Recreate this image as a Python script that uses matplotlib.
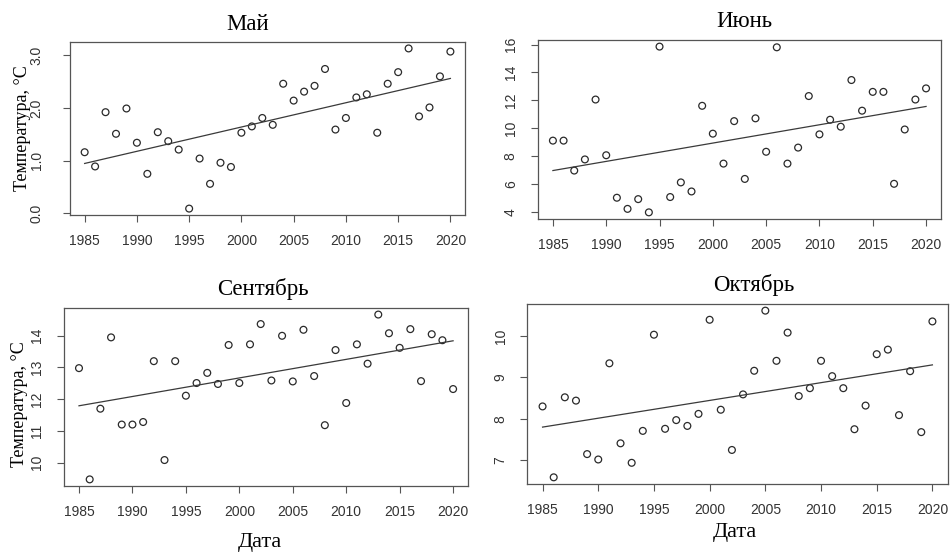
import matplotlib
matplotlib.use("Agg")
import matplotlib.pyplot as plt
import numpy as np

years = np.arange(1985, 2021)

# temperatures, one value per year 1985..2020
may_temp = [1.16, 0.89, 1.92, 1.51, 1.99, 1.34, 0.75, 1.54, 1.37, 1.21,
            0.09, 1.04, 0.56, 0.96, 0.88, 1.53, 1.65, 1.81, 1.68, 2.46,
            2.14, 2.31, 2.42, 2.74, 1.59, 1.81, 2.20, 2.26, 1.53, 2.46,
            2.68, 3.13, 1.84, 2.01, 2.60, 3.07]
june_temp = [9.1, 9.1, 6.95, 7.75, 12.05, 8.05, 5.0, 4.2, 4.9, 3.95,
             15.85, 5.05, 6.1, 5.45, 11.6, 9.6, 7.45, 10.5, 6.35, 10.7,
             8.3, 15.8, 7.45, 8.6, 12.3, 9.55, 10.6, 10.1, 13.45, 11.25,
             12.6, 12.6, 6.0, 9.9, 12.05, 12.85]
sept_temp = [12.98, 9.47, 11.70, 13.95, 11.20, 11.20, 11.28, 13.20, 10.08, 13.20,
             12.11, 12.51, 12.83, 12.48, 13.71, 12.51, 13.73, 14.37, 12.59, 14.00,
             12.56, 14.19, 12.73, 11.18, 13.55, 11.88, 13.73, 13.12, 14.67, 14.08,
             13.62, 14.21, 12.57, 14.05, 13.86, 12.32]
oct_temp = [8.30, 6.59, 8.52, 8.44, 7.15, 7.02, 9.34, 7.41, 6.94, 7.71,
            10.03, 7.76, 7.97, 7.83, 8.12, 10.39, 8.22, 7.25, 8.59, 9.16,
            10.61, 9.40, 10.08, 8.55, 8.74, 9.40, 9.03, 8.74, 7.75, 8.32,
            9.56, 9.67, 8.09, 9.15, 7.68, 10.35]

titles = ["Май", "Июнь", "Сентябрь", "Октябрь"]
series = [may_temp, june_temp, sept_temp, oct_temp]
yticks = [[0, 1, 2, 3], [4, 6, 8, 10, 12, 14, 16], [10, 11, 12, 13, 14], [7, 8, 9, 10]]
yfmt = ["%.1f", "%d", "%d", "%d"]

# panel boxes in figure fractions (left, bottom, width, height)
boxes = [
    [0.0737, 0.6112, 0.4158, 0.3128],
    [0.5663, 0.6040, 0.4242, 0.3237],
    [0.0674, 0.1212, 0.4253, 0.3219],
    [0.5547, 0.1248, 0.4432, 0.3255],
]
title_x = [0.45, 0.511, 0.493, 0.539]
ytick_pad = [14, 9.5, 9.5, 9]  # the panels were pasted together, gaps differ a bit

serif = ["Liberation Serif", "DejaVu Serif"]
sans = ["Liberation Sans", "DejaVu Sans"]

fig = plt.figure(figsize=(9.5, 5.53), dpi=100)

for i in range(4):
    ax = fig.add_axes(boxes[i])
    temp = np.array(series[i])

    # trend line (least squares)
    k, b = np.polyfit(years, temp, 1)
    ax.plot(years, k * years + b, color="#3a3a3a", lw=0.9)
    ax.scatter(years, temp, s=24, facecolors="none", edgecolors="#2a2a2a", linewidths=0.9)

    ax.margins(0.04)
    ax.set_xticks(np.arange(1985, 2021, 5))
    ax.set_yticks(yticks[i])
    ax.set_yticklabels([yfmt[i] % v for v in yticks[i]], rotation=90, va="center")

    for sp in ax.spines.values():
        sp.set_color("#555555")
        sp.set_linewidth(0.9)
    ax.tick_params(colors="#555555", labelcolor="#333333", length=5, width=0.8,
                   labelsize=10)
    ax.tick_params(axis="x", pad=8.5)
    ax.tick_params(axis="y", pad=ytick_pad[i])
    for lab in ax.get_xticklabels() + ax.get_yticklabels():
        lab.set_family(sans)

    ax.set_title(titles[i], family=serif, fontsize=16.5, x=title_x[i], pad=9)

    if i in (0, 2):
        ax.set_ylabel("Температура, °C", family=serif, fontsize=13, va="center")
        ax.yaxis.set_label_coords(-0.1215 if i == 0 else -0.109, 0.5 if i == 0 else 0.46)
    if i in (2, 3):
        ax.set_xlabel("Дата", family=serif, fontsize=16, va="center")
        if i == 2:
            ax.xaxis.set_label_coords(0.485, -0.315)
        else:
            ax.xaxis.set_label_coords(0.494, -0.267)

fig.savefig("out.png", dpi=100)
